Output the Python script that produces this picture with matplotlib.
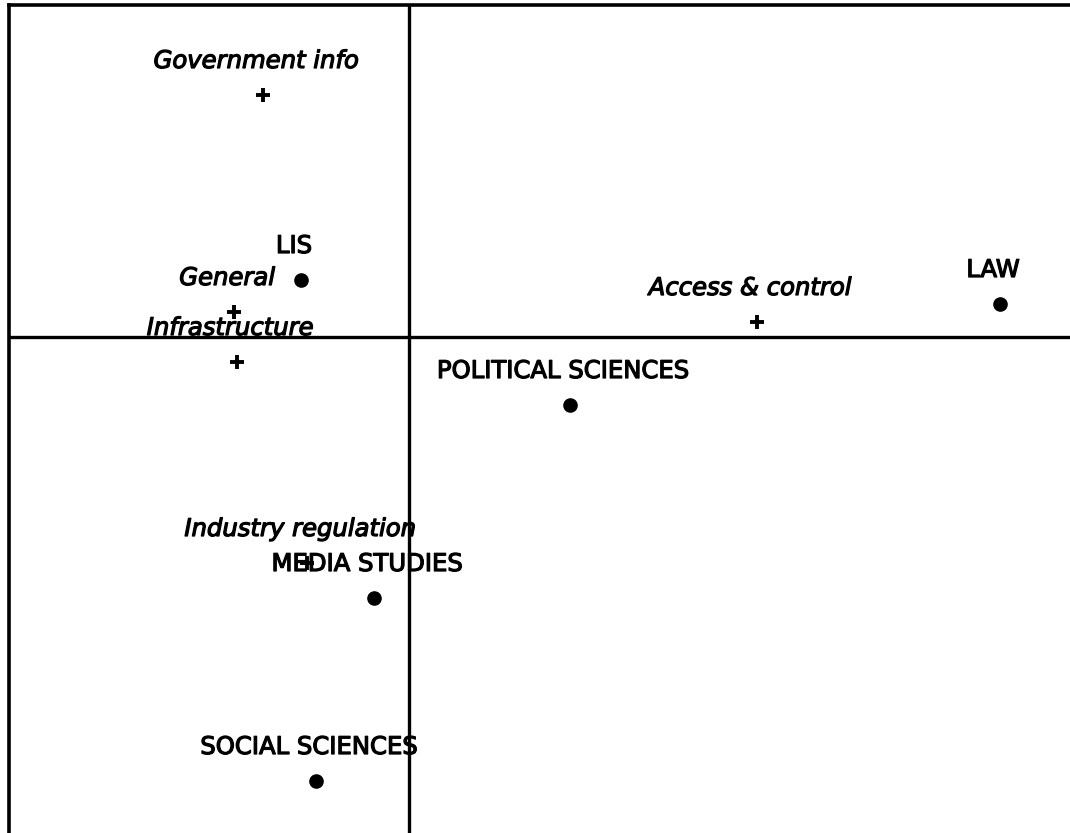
import numpy as np
import matplotlib
matplotlib.use("Agg")
import matplotlib.pyplot as plt
import matplotlib.patheffects as pe

# column points (topics), shown as +
topics = ["Government info", "General", "Infrastructure", "Access & control", "Industry regulation"]
topic_x = [-1.46, -1.75, -1.72, 3.48, -1.02]
topic_y = [2.42, 0.25, -0.25, 0.15, -2.26]

# row points (disciplines), shown as dots
fields = ["LIS", "LAW", "POLITICAL SCIENCES", "MEDIA STUDIES", "SOCIAL SCIENCES"]
field_x = [-1.08, 5.91, 1.61, -0.35, -0.93]
field_y = [0.57, 0.33, -0.68, -2.61, -4.44]

W, H = 1070, 833
fig = plt.figure(figsize=(W / 100, H / 100), dpi=100)
ax = fig.add_axes([9 / W, 0, 1 - 9 / W, (H - 5) / H])
ax.set_xlim(-4.00, 6.61)
ax.set_ylim(-4.96, 3.32)

for s in ["right", "bottom"]:
    ax.spines[s].set_visible(False)
for s in ["left", "top"]:
    ax.spines[s].set_linewidth(2.6)
ax.set_xticks([])
ax.set_yticks([])

ax.axhline(0, color="black", lw=2.4, zorder=1)
ax.axvline(0, color="black", lw=2.4, zorder=1)

ax.plot(topic_x, topic_y, "+", color="black", ms=10.5, mew=2.8, ls="none", zorder=3)
ax.plot(field_x, field_y, "o", color="black", ms=9.5, ls="none", zorder=3)

# heavier strokes, like the original's low-res rendering
thick = [pe.withStroke(linewidth=0.9, foreground="black")]

# labels sit about 34 px above each point
off = (-7 * 0.72, 34 * 0.72)
for name, x, y in zip(topics, topic_x, topic_y):
    ax.annotate(name, (x, y), xytext=off, textcoords="offset points",
                ha="center", va="center", fontsize=17.5, style="italic",
                family="DejaVu Sans", zorder=2, path_effects=thick)
for name, x, y in zip(fields, field_x, field_y):
    ax.annotate(name, (x, y), xytext=off, textcoords="offset points",
                ha="center", va="center", fontsize=17.5,
                family="DejaVu Sans", zorder=2, path_effects=thick)

fig.savefig("out.png", dpi=100)
